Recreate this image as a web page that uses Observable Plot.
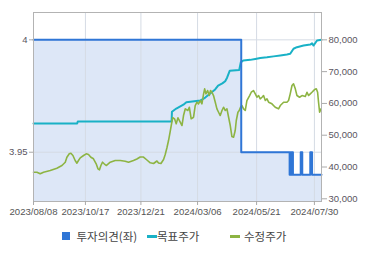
<!DOCTYPE html>
<html><head><meta charset="utf-8">
<script src="https://cdn.jsdelivr.net/npm/d3@7"></script>
<script src="https://cdn.jsdelivr.net/npm/@observablehq/plot@0.6"></script>
<style>
body{margin:0;background:#fff;font-family:"Liberation Sans",Roboto,Arial,sans-serif;}
#wrap{position:relative;width:370px;height:255px;overflow:hidden;}
#chart svg{display:block;}
#chart svg, #chart svg text{font-family:"Liberation Sans",Roboto,Arial,sans-serif !important;}
.lg{position:absolute;font-family:"Noto Sans CJK KR","Noto Sans",sans-serif;font-size:11.5px;color:#444;line-height:16px;top:227.5px;white-space:nowrap;}
.sw{position:absolute;}
</style></head><body>
<div id="wrap"><div id="chart"></div>
<div class="sw" style="left:62px;top:231.5px;width:8px;height:8px;background:#2f76d6"></div>
<div class="lg" style="left:76.5px">투자의견(좌)</div>
<div class="sw" style="left:146.5px;top:234.5px;width:10px;height:3px;background:#19b1c6"></div>
<div class="lg" style="left:157px">목표주가</div>
<div class="sw" style="left:230px;top:234.5px;width:10px;height:3px;background:#8db443"></div>
<div class="lg" style="left:244px">수정주가</div>
</div>
<script>
// trading-day index (0 = 2023/08/08)
const tickIdx = [0, 44, 91, 139, 189, 238];
const tickLabels = ["2023/08/08", "2023/10/17", "2023/12/21", "2024/03/06", "2024/05/21", "2024/07/30"];
const priceTicks = [30000, 40000, 50000, 60000, 70000, 80000];
const opinionTicks = [4, 3.95];

// 수정주가
const priceIdx = [0,2.9,5.7,8.5,14.2,19.8,24.1,26.9,28.3,30.3,31.7,33.4,35.3,36.8,38.1,39.6,42.4,44.7,46.6,48.6,50.8,53.1,54.6,55.9,57.1,58.5,59.9,61.6,65,69.2,73.5,77.7,80.5,84.7,87.6,90.4,93.2,96.1,98.9,101.7,104.6,105.9,108,110.2,111.6,113.1,114.4,115.8,117.3,118,119.5,120.9,122.4,124.3,125.8,127.1,128.6,130.8,132,133.6,135.6,137,138.5,139.8,141.3,142.7,144.1,145,146.1,147.5,148.9,150,151.2,152.5,154,155.4,156.8,158.2,159.7,161,162.5,163.9,165.3,166.7,168.1,169.5,170.9,171.8,173.2,174.3,175.4,176.6,178,179.4,180.8,183.1,184.5,186.4,187.9,189.3,190.7,192.1,193.6,194.9,196.4,197.8,199.2,202,204.8,207.6,209.1,211.9,214.7,216.1,217.5,219,220.3,221.8,223.2,225.4,227.5,230.3,231.7,233.1,234.5,235.9,237.9,239.6,240.7,241.5,242.4,243.6];
const price = [38360,38360,37860,38360,38900,39620,40470,41510,43080,44150,44340,43620,42040,41200,42040,42890,43620,44150,43930,43080,42580,41010,39430,39120,40470,41510,41010,40470,41510,42040,42040,41820,41510,42040,42510,43140,43140,42200,41320,41100,41890,41260,41100,42360,43930,46130,48330,51160,54310,55560,55160,53580,55470,54090,53050,56190,58300,57770,58800,55160,55660,59340,60380,59870,60910,59870,63020,64590,63020,64060,62480,64060,63520,62480,60380,58300,57230,56190,57770,58800,57770,58300,55660,53050,49590,49370,51480,54620,57230,57770,58800,59340,58300,57770,60910,62480,63520,64060,63020,61950,62480,61450,61950,62480,60910,61450,60380,59870,58800,58300,59340,60380,60380,60910,63020,65630,66160,64590,62480,61950,62480,62170,63520,62480,63020,63520,64280,64590,63520,60380,57230,58300];

// 목표주가
const targetIdx = [0,37,37.5,117,117.3,121,127,129.5,141.3,145.5,149.7,153.9,156.4,160,162.4,164,166.3,174.3,175.6,177.7,183.6,187.9,192.1,197.8,203.4,209.1,214.7,217.5,220.3,223.2,228.8,234.5,236,237.3,240.2,244];
const target = [53700,53700,54300,54300,57400,58400,59600,60400,60900,61850,63100,64400,65600,66300,67000,68100,70300,70500,72900,73500,73700,74000,74300,74500,74800,75100,75400,75600,77200,77700,78200,78500,78900,78200,79800,80000];

// 투자의견 (left axis)
const opinionIdx = [0,176,217,217.8,218.5,219.2,219.8,226.4,227.7,234.5,236,244];
const opinion = [4,3.95,3.94,3.95,3.94,3.95,3.94,3.95,3.94,3.95,3.94,3.94];

// map left-axis opinion values onto the shared y scale
const toP = o => 80000 + (o - 4) / 0.05 * 35350;
const yDomain = [29150, 88600];

const priceData = priceIdx.map((x, i) => ({x, y: price[i]}));
const targetData = targetIdx.map((x, i) => ({x, y: target[i]}));
const opData = opinionIdx.map((x, i) => ({x, y: toP(opinion[i])}));

const fmt = d3.format(",");
const chart = Plot.plot({
  width: 370, height: 225,
  marginTop: 12, marginBottom: 24, marginLeft: 33, marginRight: 49,
  style: {fontFamily: "'Liberation Sans', Roboto, Arial, sans-serif", background: "#fff", overflow: "visible"},
  x: {domain: [0, 244], axis: null},
  y: {domain: yDomain, axis: null},
  marks: [
    Plot.areaY(opData, {x: "x", y1: yDomain[0], y2: "y", curve: "step-after", fill: "#dde7f7"}),
    Plot.gridX(tickIdx, {stroke: "#d5dbe4", strokeOpacity: 1}),
    Plot.ruleY(opinionTicks.map(toP), {stroke: "#d5dbe4"}),
    Plot.line(targetData, {x: "x", y: "y", stroke: "#19b1c6", strokeWidth: 2}),
    Plot.line(priceData, {x: "x", y: "y", stroke: "#8db443", strokeWidth: 1.6}),
    Plot.line(opData, {x: "x", y: "y", curve: "step-after", stroke: "#2f76d6", strokeWidth: 2}),
    Plot.frame({stroke: "#b3b3b3"}),
    Plot.axisX(tickIdx, {label: null, tickFormat: d => tickLabels[tickIdx.indexOf(d)], tickSize: 4, tickPadding: 3, fontSize: 9.6, fill: "#555", stroke: "#aaa"}),
    Plot.axisY(priceTicks, {anchor: "right", label: null, tickFormat: fmt, tickSize: 5, tickPadding: 2, fontSize: 9.5, fill: "#5a5560", stroke: "#aaa"}),
    Plot.axisY(opinionTicks.map(toP), {anchor: "left", label: null, tickFormat: p => String(opinionTicks[opinionTicks.map(toP).indexOf(p)]), tickSize: 4, tickPadding: 2, fontSize: 9.5, fill: "#5a5560", stroke: "#aaa"})
  ]
});
document.getElementById("chart").appendChild(chart);
</script>
</body></html>
